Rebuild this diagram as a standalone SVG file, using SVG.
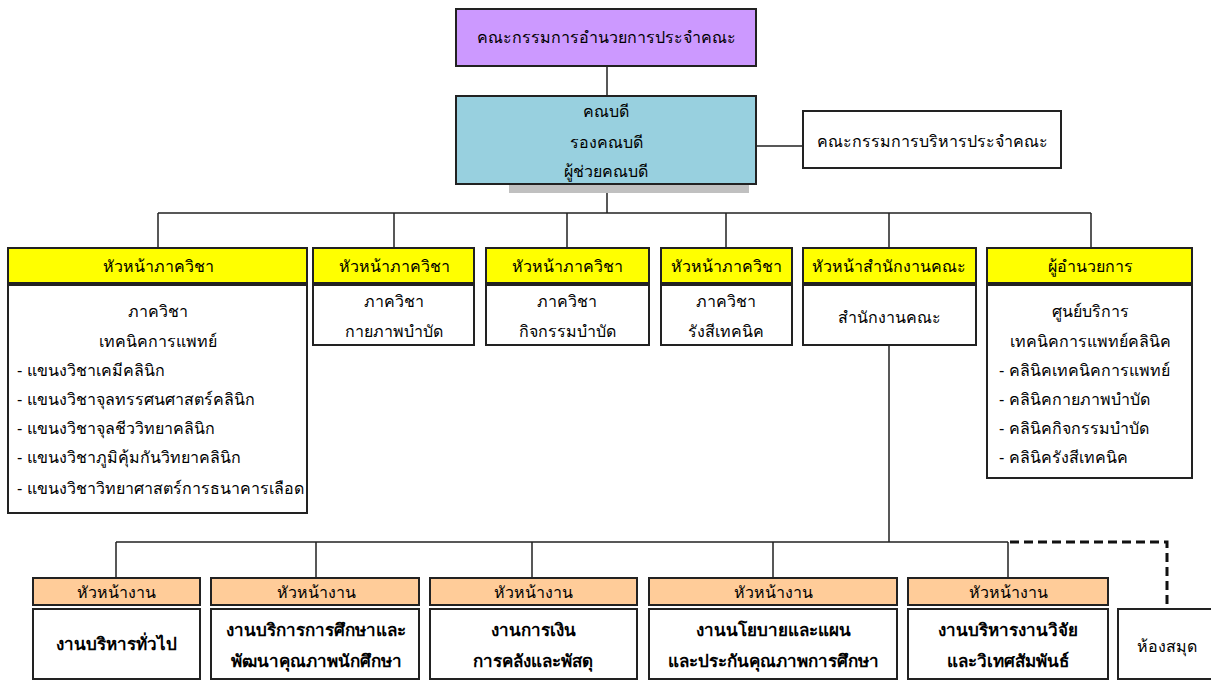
<svg xmlns="http://www.w3.org/2000/svg" width="1211" height="680" viewBox="0 0 1211 680">
<style>
text{font-family:"Liberation Sans","Noto Sans","DejaVu Sans",sans-serif;font-size:16px;fill:#000;text-anchor:middle}
.l{text-anchor:start}
.b{font-weight:bold;font-size:17px}
.box{fill:#fff;stroke:#222;stroke-width:2}
.yel{fill:#FFFF00;stroke:#222;stroke-width:2}
.org{fill:#FFCC99;stroke:#222;stroke-width:2}
.ln{fill:none;stroke:#222;stroke-width:1.5}
.dash{fill:none;stroke:#111;stroke-width:3;stroke-dasharray:9 5}
</style>
<rect width="1211" height="680" fill="#fff"/>
<g id="connectors">
<path class="ln" d="M607 66V96M756 146H803M607 193V213M158 213H1091M158 213V248M394 213V248M567 213V248M726 213V248M889 213V248M1091 213V248"/>
<path class="ln" d="M889 345V542M116 542H1008M116 542V578M316 542V578M532 542V578M773 542V578M1008 542V578"/>
<path class="dash" d="M1010 542H1167V606"/>
</g>
<g id="board">
<rect x="456" y="9" width="300" height="57" fill="#CC99FF" stroke="#222" stroke-width="2"/>
<text x="606" y="43">คณะกรรมการอำนวยการประจำคณะ</text>
</g>
<g id="dean">
<rect x="509" y="184" width="240" height="9" fill="#C0C0C0"/>
<rect x="456" y="96" width="300" height="88" fill="#98D0DF" stroke="#222" stroke-width="2"/>
<text x="606" y="117">คณบดี</text>
<text x="606" y="148">รองคณบดี</text>
<text x="606" y="177">ผู้ช่วยคณบดี</text>
</g>
<g id="exec">
<rect class="box" x="803" y="111" width="258" height="57"/>
<text x="932" y="147">คณะกรรมการบริหารประจำคณะ</text>
</g>
<g id="dept1">
<rect class="yel" x="8" y="248" width="299" height="35"/>
<text x="158" y="272">หัวหน้าภาควิชา</text>
<rect class="box" x="8" y="285" width="299" height="228"/>
<text x="158" y="317">ภาควิชา</text>
<text x="158" y="347">เทคนิคการแพทย์</text>
<text class="l" x="17" y="376">- แขนงวิชาเคมีคลินิก</text>
<text class="l" x="17" y="405">- แขนงวิชาจุลทรรศนศาสตร์คลินิก</text>
<text class="l" x="17" y="434">- แขนงวิชาจุลชีววิทยาคลินิก</text>
<text class="l" x="17" y="463">- แขนงวิชาภูมิคุ้มกันวิทยาคลินิก</text>
<text class="l" x="17" y="494">- แขนงวิชาวิทยาศาสตร์การธนาคารเลือด</text>
</g>
<g id="dept2">
<rect class="yel" x="313" y="248" width="161" height="35"/>
<text x="394" y="272">หัวหน้าภาควิชา</text>
<rect class="box" x="313" y="285" width="161" height="60"/>
<text x="394" y="307">ภาควิชา</text>
<text x="394" y="337">กายภาพบำบัด</text>
</g>
<g id="dept3">
<rect class="yel" x="486" y="248" width="163" height="35"/>
<text x="567" y="272">หัวหน้าภาควิชา</text>
<rect class="box" x="486" y="285" width="163" height="60"/>
<text x="567" y="307">ภาควิชา</text>
<text x="567" y="337">กิจกรรมบำบัด</text>
</g>
<g id="dept4">
<rect class="yel" x="661" y="248" width="131" height="35"/>
<text x="726" y="272">หัวหน้าภาควิชา</text>
<rect class="box" x="661" y="285" width="131" height="60"/>
<text x="726" y="307">ภาควิชา</text>
<text x="726" y="337">รังสีเทคนิค</text>
</g>
<g id="office">
<rect class="yel" x="803" y="248" width="173" height="35"/>
<text x="889" y="272">หัวหน้าสำนักงานคณะ</text>
<rect class="box" x="803" y="285" width="173" height="60"/>
<text x="889" y="323">สำนักงานคณะ</text>
</g>
<g id="center">
<rect class="yel" x="987" y="248" width="205" height="35"/>
<text x="1090" y="272">ผู้อำนวยการ</text>
<rect class="box" x="987" y="285" width="205" height="193"/>
<text x="1090" y="317">ศูนย์บริการ</text>
<text x="1090" y="347">เทคนิคการแพทย์คลินิค</text>
<text class="l" x="999" y="376">- คลินิคเทคนิคการแพทย์</text>
<text class="l" x="999" y="405">- คลินิคกายภาพบำบัด</text>
<text class="l" x="999" y="434">- คลินิคกิจกรรมบำบัด</text>
<text class="l" x="999" y="463">- คลินิครังสีเทคนิค</text>
</g>
<g id="unit1">
<rect class="org" x="33" y="578" width="167" height="27"/>
<text x="116" y="598">หัวหน้างาน</text>
<rect class="box" x="33" y="609" width="167" height="70"/>
<text class="b" x="116" y="650">งานบริหารทั่วไป</text>
</g>
<g id="unit2">
<rect class="org" x="211" y="578" width="208" height="27"/>
<text x="316" y="598">หัวหน้างาน</text>
<rect class="box" x="211" y="609" width="208" height="70"/>
<text class="b" x="316" y="636">งานบริการการศึกษาและ</text>
<text class="b" x="316" y="667">พัฒนาคุณภาพนักศึกษา</text>
</g>
<g id="unit3">
<rect class="org" x="430" y="578" width="207" height="27"/>
<text x="533" y="598">หัวหน้างาน</text>
<rect class="box" x="430" y="609" width="207" height="70"/>
<text class="b" x="533" y="636">งานการเงิน</text>
<text class="b" x="533" y="667">การคลังและพัสดุ</text>
</g>
<g id="unit4">
<rect class="org" x="649" y="578" width="248" height="27"/>
<text x="773" y="598">หัวหน้างาน</text>
<rect class="box" x="649" y="609" width="248" height="70"/>
<text class="b" x="773" y="636">งานนโยบายและแผน</text>
<text class="b" x="773" y="667">และประกันคุณภาพการศึกษา</text>
</g>
<g id="unit5">
<rect class="org" x="908" y="578" width="200" height="27"/>
<text x="1008" y="598">หัวหน้างาน</text>
<rect class="box" x="908" y="609" width="200" height="70"/>
<text class="b" x="1008" y="636">งานบริหารงานวิจัย</text>
<text class="b" x="1008" y="667">และวิเทศสัมพันธ์</text>
</g>
<g id="library">
<rect class="box" x="1118" y="609" width="100" height="70"/>
<text x="1167" y="652">ห้องสมุด</text>
</g>
</svg>
